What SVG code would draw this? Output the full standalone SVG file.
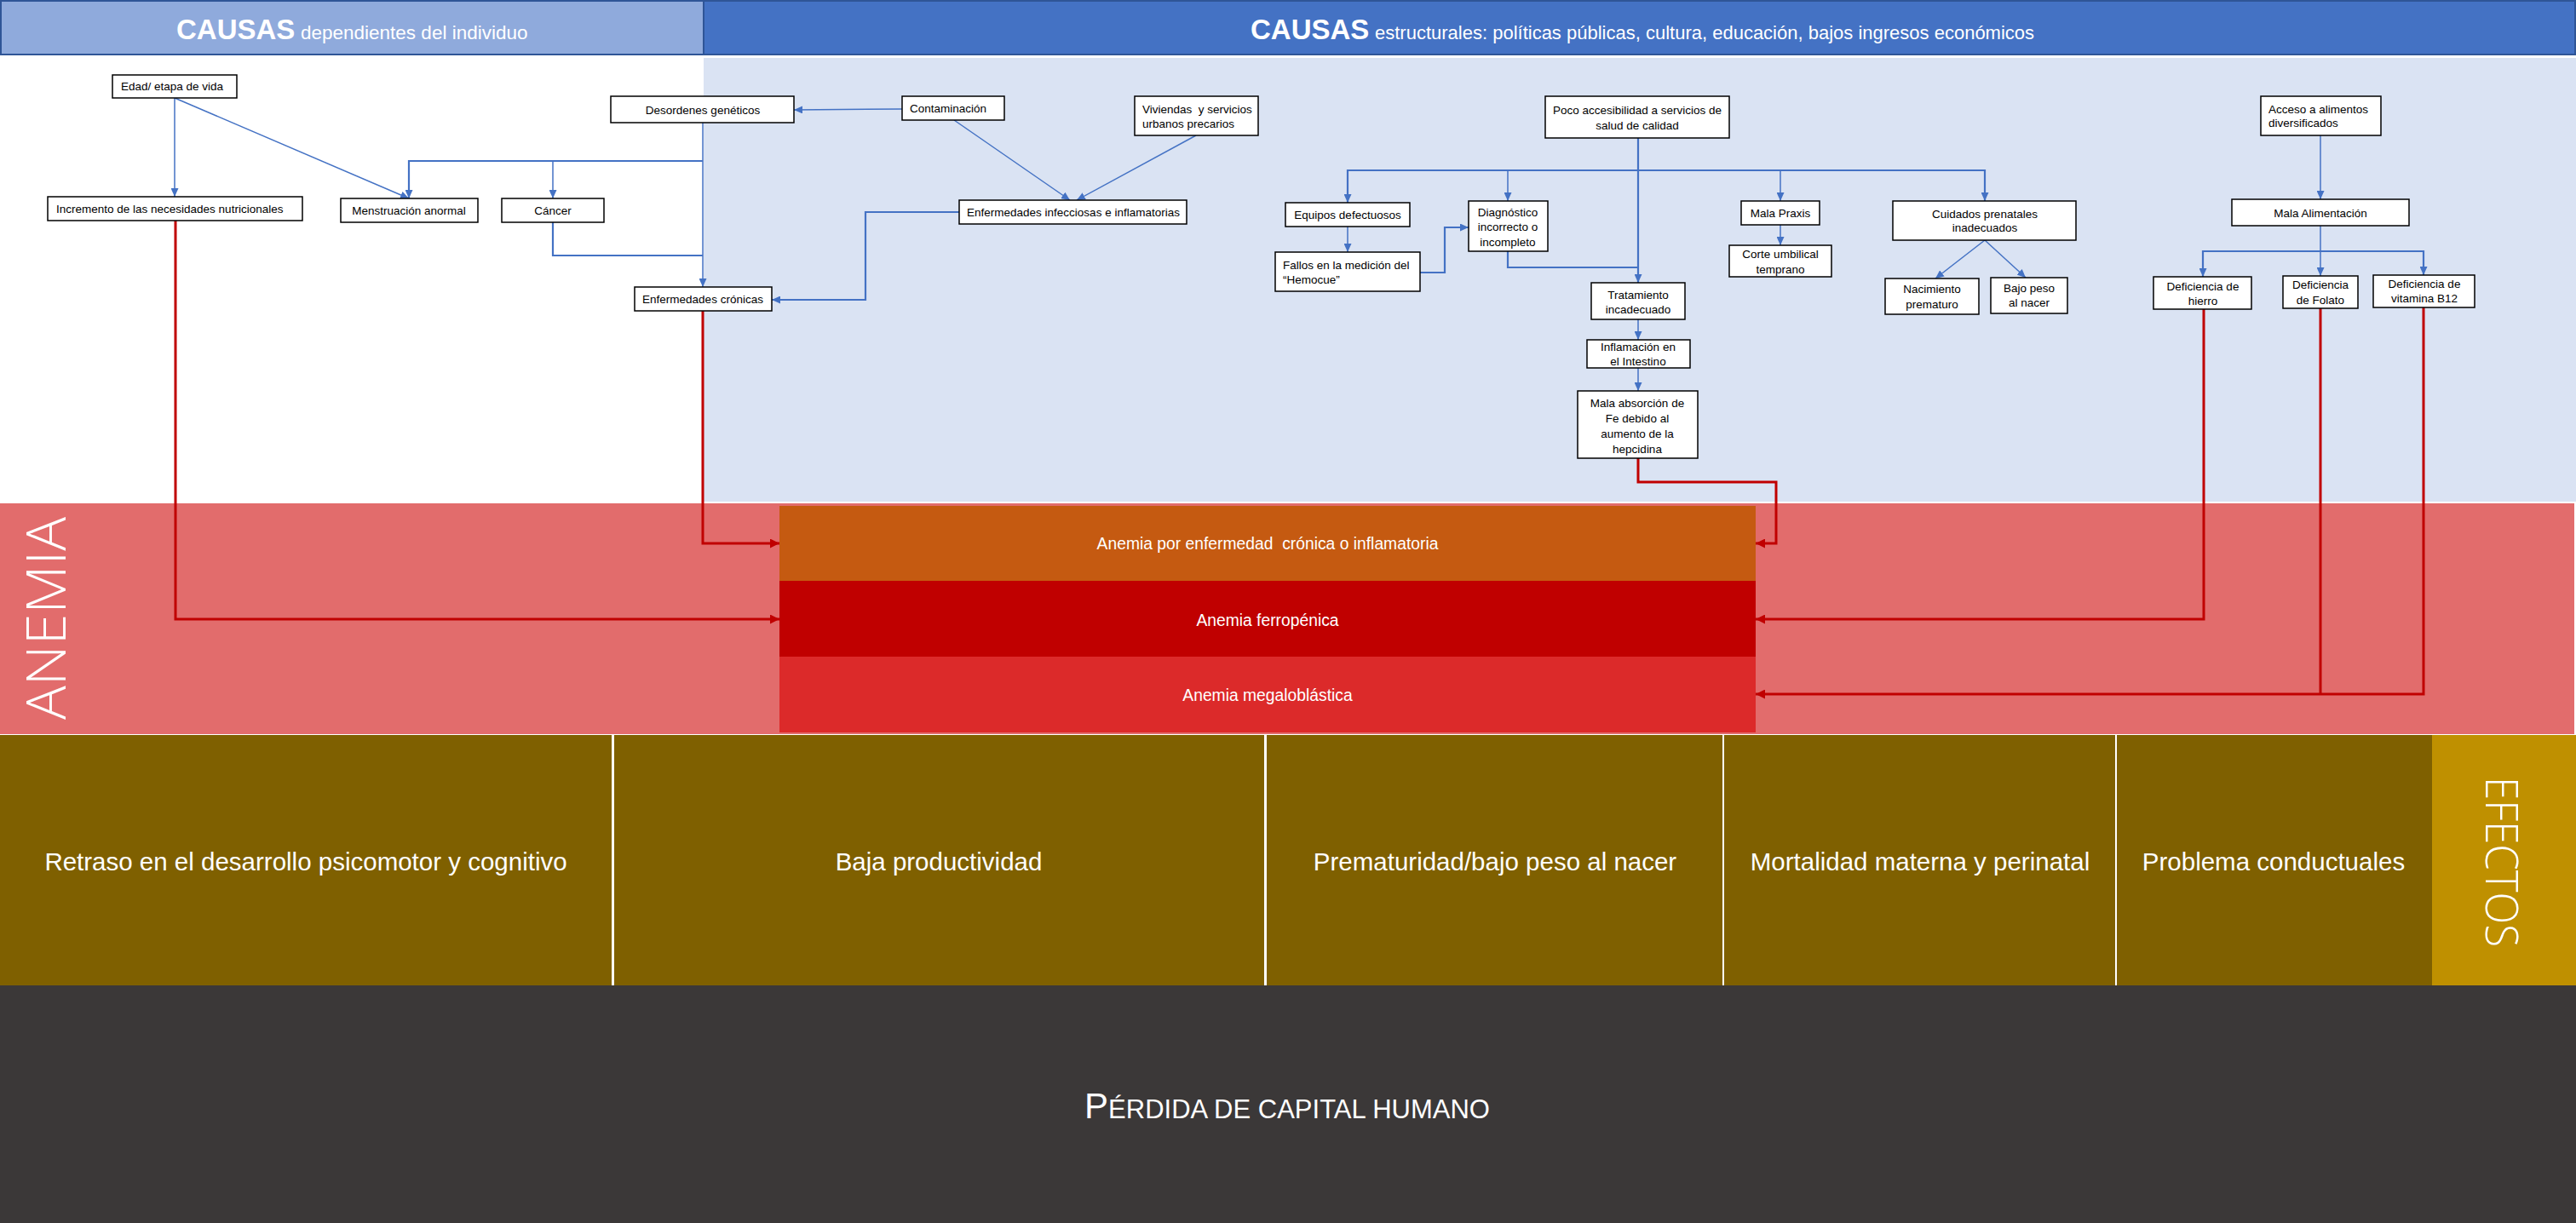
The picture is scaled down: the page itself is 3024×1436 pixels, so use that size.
<svg xmlns="http://www.w3.org/2000/svg" width="3024" height="1436" viewBox="0 0 3024 1436">
<style>
.nt{font-family:"Liberation Sans",Arial,sans-serif;font-size:13.5px;fill:#000}
.c{text-anchor:middle}
.nb{fill:#fff;stroke:#000;stroke-width:1.5}
.blue{fill:none;stroke:#4472C4;stroke-width:1.5}
.blue2{fill:none;stroke:#4472C4;stroke-width:2.2}
.red{fill:none;stroke:#C00000;stroke-width:3}
.wt{font-family:"Liberation Sans",Arial,sans-serif;fill:#fff}
.big{font-family:"Open Sans","Liberation Sans",sans-serif;font-weight:300;fill:#fff}
</style>
<defs>
<marker id="ab" markerUnits="userSpaceOnUse" markerWidth="10" markerHeight="9" refX="10" refY="4.5" orient="auto"><path d="M0,0 L10,4.5 L0,9 z" fill="#4472C4"/></marker>
<marker id="ar" markerUnits="userSpaceOnUse" markerWidth="11" markerHeight="11" refX="11" refY="5.5" orient="auto"><path d="M0,0 L11,5.5 L0,11 z" fill="#C00000"/></marker>
</defs>

<g id="background">
<rect x="0" y="0" width="3024" height="1436" fill="#fff"/>
<rect x="826" y="68" width="2198" height="521" fill="#DAE3F3"/>
<rect x="0" y="591" width="3022" height="271" fill="#E26C6C"/>
<rect x="0" y="863" width="2855" height="294" fill="#7F6000"/>
<rect x="2855" y="863" width="169" height="294" fill="#BF9000"/>
<rect x="718" y="863" width="3" height="294" fill="#fff"/>
<rect x="1484" y="863" width="3" height="294" fill="#fff"/>
<rect x="2022" y="863" width="2" height="294" fill="#fff"/>
<rect x="2483" y="863" width="2" height="294" fill="#fff"/>
<rect x="0" y="1157" width="3024" height="279" fill="#3B3838"/>
</g>

<g id="header-individuo">
<rect x="1" y="1" width="825" height="63" fill="#8FAADC" stroke="#2F5597" stroke-width="2"/>
<text class="wt" y="46"><tspan x="207" font-size="33" font-weight="bold">CAUSAS</tspan><tspan x="353" font-size="22.5">dependientes del individuo</tspan></text>
</g>
<g id="header-estructurales">
<rect x="826" y="1" width="2197" height="63" fill="#4472C4" stroke="#2F5597" stroke-width="2"/>
<text class="wt" y="46"><tspan x="1468" font-size="33" font-weight="bold">CAUSAS</tspan><tspan x="1614" font-size="22">estructurales: políticas públicas, cultura, educación, bajos ingresos económicos</tspan></text>
</g>

<g id="label-anemia">
<text class="big" font-size="64" text-anchor="middle" textLength="238" lengthAdjust="spacingAndGlyphs" transform="translate(77,726) rotate(-90)">ANEMIA</text>
</g>

<g id="anemia-cronica">
<rect x="915" y="594" width="1146" height="88" fill="#C55A11"/>
<text class="wt c" x="1488" y="645" font-size="19.3" xml:space="preserve">Anemia por enfermedad  crónica o inflamatoria</text>
</g>
<g id="anemia-ferropenica">
<rect x="915" y="682" width="1146" height="89" fill="#C00000"/>
<text class="wt c" x="1488" y="735" font-size="19.3">Anemia ferropénica</text>
</g>
<g id="anemia-megaloblastica">
<rect x="915" y="771" width="1146" height="89" fill="#DC2A2A"/>
<text class="wt c" x="1488" y="823" font-size="19.3">Anemia megaloblástica</text>
</g>

<g id="connectors">
<path class="blue" d="M205,115 V231" marker-end="url(#ab)"/>
<path class="blue" d="M205,115 L480,233" marker-end="url(#ab)"/>
<path class="blue" d="M825,144 V337" marker-end="url(#ab)"/>
<path class="blue2" d="M825,189 H480 V233" marker-end="url(#ab)"/>
<path class="blue" d="M649,189 V233" marker-end="url(#ab)"/>
<path class="blue2" d="M649,261 V300 H825"/>
<path class="blue" d="M1059,128 L932,129" marker-end="url(#ab)"/>
<path class="blue" d="M1120,141 L1256,235" marker-end="url(#ab)"/>
<path class="blue" d="M1404,159 L1264,235" marker-end="url(#ab)"/>
<path class="blue2" d="M1126,249 H1016 V352 H906" marker-end="url(#ab)"/>
<path class="blue2" d="M1923,162 V332" marker-end="url(#ab)"/>
<path class="blue2" d="M1582,238 V200 H2330 V236" marker-end="url(#ab)"/>
<path class="blue" d="M1770,200 V236" marker-end="url(#ab)"/>
<path class="blue" d="M2090,200 V236" marker-end="url(#ab)"/>
<path class="blue" d="M1582,200 V238" marker-end="url(#ab)"/>
<path class="blue" d="M1582,266 V296" marker-end="url(#ab)"/>
<path class="blue2" d="M1667,320 H1696 V267 H1724" marker-end="url(#ab)"/>
<path class="blue2" d="M1770,295 V314 H1923"/>
<path class="blue" d="M2090,264 V288" marker-end="url(#ab)"/>
<path class="blue" d="M2330,282 L2272,327" marker-end="url(#ab)"/>
<path class="blue" d="M2330,282 L2378,326" marker-end="url(#ab)"/>
<path class="blue" d="M1923,375 V399" marker-end="url(#ab)"/>
<path class="blue" d="M1923,432 V459" marker-end="url(#ab)"/>
<path class="blue" d="M2724,159 V234" marker-end="url(#ab)"/>
<path class="blue" d="M2724,265 V324" marker-end="url(#ab)"/>
<path class="blue2" d="M2586,325 V295 H2845 V323" marker-end="url(#ab)"/>
<path class="blue" d="M2586,295 V325" marker-end="url(#ab)"/>
<path class="red" d="M206,259 V727 H915" marker-end="url(#ar)"/>
<path class="red" d="M825,365 V638 H915" marker-end="url(#ar)"/>
<path class="red" d="M1923,538 V566 H2085 V638 H2061" marker-end="url(#ar)"/>
<path class="red" d="M2587,363 V727 H2061" marker-end="url(#ar)"/>
<path class="red" d="M2845,361 V815 H2061" marker-end="url(#ar)"/>
<path class="red" d="M2724,362 V815"/>
</g>

<g id="n-edad"><rect class="nb" x="132" y="88" width="146" height="27"/><text class="nt" x="142" y="106">Edad/ etapa de vida</text></g>
<g id="n-desordenes"><rect class="nb" x="717" y="113" width="215" height="31"/><text class="nt c" x="825" y="134">Desordenes genéticos</text></g>
<g id="n-incremento"><rect class="nb" x="56" y="231" width="299" height="28"/><text class="nt" x="66" y="250">Incremento de las necesidades nutricionales</text></g>
<g id="n-menstruacion"><rect class="nb" x="400" y="233" width="161" height="28"/><text class="nt c" x="480" y="252">Menstruación anormal</text></g>
<g id="n-cancer"><rect class="nb" x="589" y="233" width="120" height="28"/><text class="nt c" x="649" y="252">Cáncer</text></g>
<g id="n-cronicas"><rect class="nb" x="745" y="337" width="161" height="28"/><text class="nt c" x="825" y="356">Enfermedades crónicas</text></g>
<g id="n-contaminacion"><rect class="nb" x="1059" y="113" width="120" height="28"/><text class="nt" x="1068" y="132">Contaminación</text></g>
<g id="n-viviendas"><rect class="nb" x="1332" y="113" width="145" height="46"/><text class="nt" x="1341" y="133" xml:space="preserve">Viviendas  y servicios<tspan x="1341" y="150">urbanos precarios</tspan></text></g>
<g id="n-infecciosas"><rect class="nb" x="1126" y="235" width="267" height="28"/><text class="nt c" x="1260" y="254">Enfermedades infecciosas e inflamatorias</text></g>
<g id="n-poco"><rect class="nb" x="1814" y="113" width="216" height="49"/><text class="nt c" x="1922" y="134">Poco accesibilidad a servicios de<tspan x="1922" y="152">salud de calidad</tspan></text></g>
<g id="n-equipos"><rect class="nb" x="1509" y="238" width="146" height="28"/><text class="nt c" x="1582" y="257">Equipos defectuosos</text></g>
<g id="n-fallos"><rect class="nb" x="1497" y="296" width="170" height="46"/><text class="nt" x="1506" y="316">Fallos en la medición del<tspan x="1506" y="333">“Hemocue”</tspan></text></g>
<g id="n-diagnostico"><rect class="nb" x="1724" y="236" width="93" height="59"/><text class="nt c" x="1770" y="254">Diagnóstico<tspan x="1770" y="271">incorrecto o</tspan><tspan x="1770" y="289">incompleto</tspan></text></g>
<g id="n-tratamiento"><rect class="nb" x="1868" y="332" width="110" height="43"/><text class="nt c" x="1923" y="351">Tratamiento<tspan x="1923" y="368">incadecuado</tspan></text></g>
<g id="n-inflamacion"><rect class="nb" x="1863" y="399" width="121" height="33"/><text class="nt c" x="1923" y="412">Inflamación en<tspan x="1923" y="429">el Intestino</tspan></text></g>
<g id="n-absorcion"><rect class="nb" x="1852" y="459" width="141" height="79"/><text class="nt c" x="1922" y="478">Mala absorción de<tspan x="1922" y="496">Fe debido al</tspan><tspan x="1922" y="514">aumento de la</tspan><tspan x="1922" y="532">hepcidina</tspan></text></g>
<g id="n-praxis"><rect class="nb" x="2044" y="236" width="92" height="28"/><text class="nt c" x="2090" y="255">Mala Praxis</text></g>
<g id="n-corte"><rect class="nb" x="2030" y="288" width="120" height="37"/><text class="nt c" x="2090" y="303">Corte umbilical<tspan x="2090" y="321">temprano</tspan></text></g>
<g id="n-cuidados"><rect class="nb" x="2222" y="236" width="215" height="46"/><text class="nt c" x="2330" y="256">Cuidados prenatales<tspan x="2330" y="272">inadecuados</tspan></text></g>
<g id="n-nacimiento"><rect class="nb" x="2213" y="327" width="110" height="42"/><text class="nt c" x="2268" y="344">Nacimiento<tspan x="2268" y="362">prematuro</tspan></text></g>
<g id="n-bajopeso"><rect class="nb" x="2337" y="326" width="90" height="42"/><text class="nt c" x="2382" y="343">Bajo peso<tspan x="2382" y="360">al nacer</tspan></text></g>
<g id="n-acceso"><rect class="nb" x="2654" y="113" width="141" height="46"/><text class="nt" x="2663" y="133">Acceso a alimentos<tspan x="2663" y="149">diversificados</tspan></text></g>
<g id="n-malaalim"><rect class="nb" x="2620" y="234" width="208" height="31"/><text class="nt c" x="2724" y="255">Mala Alimentación</text></g>
<g id="n-hierro"><rect class="nb" x="2528" y="325" width="115" height="38"/><text class="nt c" x="2586" y="341">Deficiencia de<tspan x="2586" y="358">hierro</tspan></text></g>
<g id="n-folato"><rect class="nb" x="2680" y="324" width="88" height="38"/><text class="nt c" x="2724" y="339">Deficiencia<tspan x="2724" y="357">de Folato</tspan></text></g>
<g id="n-b12"><rect class="nb" x="2786" y="323" width="119" height="38"/><text class="nt c" x="2846" y="338">Deficiencia de<tspan x="2846" y="355">vitamina B12</tspan></text></g>

<g id="efecto-retraso"><text class="wt c" x="359" y="1022" font-size="29.5">Retraso en el desarrollo psicomotor y cognitivo</text></g>
<g id="efecto-productividad"><text class="wt c" x="1102" y="1022" font-size="29.5">Baja productividad</text></g>
<g id="efecto-prematuridad"><text class="wt c" x="1755" y="1022" font-size="29.5">Prematuridad/bajo peso al nacer</text></g>
<g id="efecto-mortalidad"><text class="wt c" x="2254" y="1022" font-size="29.5">Mortalidad materna y perinatal</text></g>
<g id="efecto-conductuales"><text class="wt c" x="2669" y="1022" font-size="29.5">Problema conductuales</text></g>
<g id="label-efectos">
<text class="big" font-size="54" text-anchor="middle" textLength="200" lengthAdjust="spacingAndGlyphs" transform="translate(2918,1012) rotate(90)">EFECTOS</text>
</g>
<g id="perdida">
<text class="wt c" x="1511" y="1313"><tspan font-size="42">P</tspan><tspan font-size="31">ÉRDIDA DE CAPITAL HUMANO</tspan></text>
</g>
</svg>
